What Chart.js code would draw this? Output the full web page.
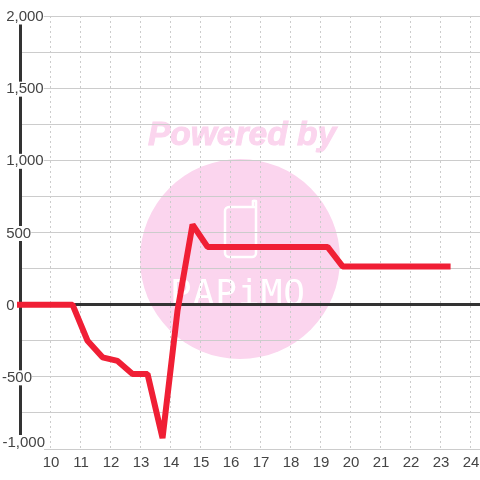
<!DOCTYPE html>
<html>
<head>
<meta charset="utf-8">
<style>
  html, body { margin: 0; padding: 0; background: #fff; }
  #wrap { width: 480px; height: 480px; }
</style>
<script src="https://cdn.jsdelivr.net/npm/chart.js@4/dist/chart.umd.min.js"></script>
</head>
<body>
<div id="wrap"><canvas id="profit" width="480" height="480"></canvas></div>
<script>
var hours = [9, 9.25, 9.75, 10.25, 10.75, 11.25, 11.75, 12.25, 12.75, 13.25, 13.75, 14.25, 14.75, 15.25, 15.75, 16.25, 16.75, 17.25, 17.75, 18.25, 18.75, 19.25, 19.75, 20.25, 20.75, 21.25, 21.75, 22.25, 22.75, 23.25];
var profit = [0, 0, 0, 0, 0, -250, -365, -390, -480, -480, -925, -40, 555, 400, 400, 400, 400, 400, 400, 400, 400, 400, 265, 265, 265, 265, 265, 265, 265, 265];
var yLabels = { "2000": "2,000", "1500": "1,500", "1000": "1,000", "500": "500", "0": "0", "-500": "-500", "-1000": "-1,000" };

var LABEL_FONT = { family: "'Liberation Sans', Arial, sans-serif", size: 15, lineHeight: 1 };

// pale logo behind the plot
var watermark = {
  id: "watermark",
  beforeDraw: function(chart) {
    var c = chart.ctx;
    c.save();
    c.fillStyle = "#fbd5ee";
    c.beginPath();
    c.arc(240, 259, 100, 0, Math.PI * 2);
    c.fill();
    c.font = "italic bold 33.5px 'Liberation Sans', sans-serif";
    c.textBaseline = "alphabetic";
    c.strokeStyle = "#fbd5ee";
    c.lineWidth = 1;
    c.fillText("Powered by", 148, 145);
    c.strokeText("Powered by", 148, 145);
    c.strokeStyle = "#fff";
    c.lineWidth = 2.5;
    c.lineJoin = "round";
    c.lineCap = "round";
    c.beginPath();
    c.moveTo(254, 207);
    c.lineTo(229, 207);
    c.arcTo(225, 207, 225, 211, 4);
    c.lineTo(225, 253);
    c.arcTo(225, 257, 229, 257, 4);
    c.lineTo(252, 257);
    c.arcTo(256, 257, 256, 253, 4);
    c.lineTo(256, 201);
    c.arcTo(256, 199, 253, 201, 2);
    c.lineTo(253, 207);
    c.stroke();
    c.fillStyle = "#fff";
    c.font = "36px 'DejaVu Sans Mono', monospace";
    c.letterSpacing = "1px";
    c.fillText("PAPiMO", 170, 305);
    c.restore();
  }
};

// the bottom label sits above its tick, so chart.js can't place it
var bottomLabel = {
  id: "bottomLabel",
  afterDatasetsDraw: function(chart) {
    var c = chart.ctx;
    var y = chart.scales.y.getPixelForValue(-1000);
    c.save();
    c.fillStyle = "#fff";
    c.fillRect(2, y - 14, 42, 16);
    c.fillStyle = "#444";
    c.font = "15px 'Liberation Sans', Arial, sans-serif";
    c.textBaseline = "middle";
    c.fillText(yLabels["-1000"], 2.5, y - 6.5);
    c.restore();
  }
};

var ctx = document.getElementById("profit").getContext("2d");
new Chart(ctx, {
  type: "line",
  data: {
    labels: hours,
    datasets: [{
      data: hours.map(function(h, i) { return { x: h, y: profit[i] }; }),
      borderColor: "#f01f35",
      borderWidth: 6,
      borderCapStyle: "square",
      borderJoinStyle: "bevel",
      pointRadius: 0,
      tension: 0,
      clip: false
    }]
  },
  plugins: [watermark, bottomLabel],
  options: {
    responsive: false,
    animation: false,
    layout: { padding: { left: 20, top: 16, right: 0, bottom: 0 } },
    plugins: { legend: { display: false }, tooltip: { enabled: false } },
    scales: {
      x: {
        type: "linear",
        min: 9,
        max: 24.33,
        grid: {
          color: "#ccc",
          lineWidth: 1,
          tickLength: 0
        },
        border: { display: false, dash: [2, 3] },
        afterFit: function(scale) {
          scale.height = 31;
          scale.paddingLeft = 0;
          scale.paddingRight = 0;
        },
        ticks: {
          stepSize: 1,
          includeBounds: false,
          autoSkip: false,
          maxRotation: 0,
          padding: 6,
          labelOffset: 1,
          color: "#444",
          font: LABEL_FONT,
          callback: function(v) { return v >= 10 ? String(v) : ""; }
        }
      },
      y: {
        min: -1000,
        max: 2000,
        afterFit: function(scale) { scale.width = 0; },
        grid: {
          color: function(c) { return c.tick && c.tick.value === 0 ? "#333" : "#ccc"; },
          lineWidth: function(c) { return c.tick && c.tick.value === 0 ? 3 : 1; },
          tickLength: 0
        },
        border: { display: true, color: "#333", width: 3 },
        ticks: {
          stepSize: 250,
          autoSkip: false,
          mirror: true,
          padding: -18,
          labelOffset: 1,
          color: "#444",
          font: LABEL_FONT,
          showLabelBackdrop: true,
          backdropColor: "#fff",
          backdropPadding: 0,
          callback: function(v) {
            var s = yLabels[v];
            if (!s || v === -1000) return "";
            return v < 0 ? s : " " + s;
          }
        }
      }
    }
  }
});
</script>
</body>
</html>
